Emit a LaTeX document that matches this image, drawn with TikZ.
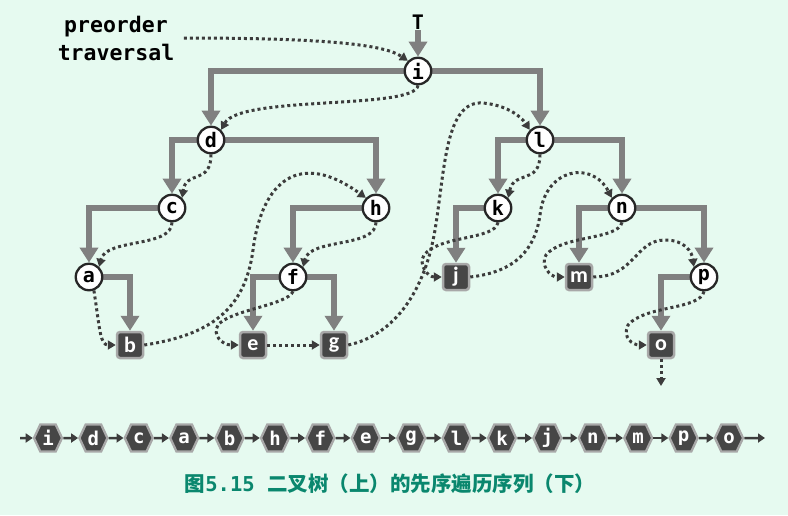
\documentclass[tikz,border=0pt]{standalone}
\usepackage{fontspec}
\usetikzlibrary{arrows.meta,shapes.geometric,shapes.symbols}
\newfontfamily\monof{DejaVu Sans Mono}
\newfontfamily\carl{Carlito}
\newfontfamily\cjk{Noto Sans CJK SC}
\definecolor{bgc}{RGB}{230,250,240}
\definecolor{egray}{RGB}{128,128,128}
\definecolor{dotc}{RGB}{60,60,60}
\definecolor{sqfill}{RGB}{70,70,70}
\definecolor{sqedge}{RGB}{168,168,168}
\definecolor{capc}{RGB}{10,135,110}
\pgfdeclarelayer{bg}
\pgfsetlayers{bg,main}
\tikzset{
  circ/.style={circle, draw=black!85, line width=2.3pt, fill=white, minimum size=26.5pt, inner sep=0pt,
    font=\monof\bfseries\fontsize{20}{20}\selectfont},
  sqn/.style={rectangle, rounded corners=3pt, draw=sqedge, line width=2.5pt, fill=sqfill, minimum size=26pt,
    inner sep=0pt, text=white, font=\carl\bfseries\fontsize{22}{22}\selectfont},
  hexn/.style={signal, signal to=east and west, signal pointer angle=130, draw=sqedge, line width=2.3pt,
    fill=sqfill, minimum width=28pt, minimum height=27pt, inner sep=0pt, text=white,
    font=\monof\bfseries\fontsize{19}{19}\selectfont},
  tedge/.style={draw=egray, line width=5.5pt, line join=miter, -{Triangle[width=18pt,length=15pt]}},
  trav/.style={draw=dotc, line width=3pt, dash pattern=on 3pt off 3pt, -{Triangle[width=9pt,length=8pt]}},
  harrow/.style={draw=dotc, line width=2.5pt, -{Triangle[width=9pt,length=7pt]}},
}
\begin{document}
\begin{tikzpicture}[x=1pt,y=-1pt]
\useasboundingbox (0,0) rectangle (788,515);
\begin{pgfonlayer}{bg}
\fill[bgc] (0,0) rectangle (788,515);
\end{pgfonlayer}
% labels
\node[font=\monof\bfseries\fontsize{21.5}{28}\selectfont, align=center] (pre) at (116,38) {preorder\\traversal};
\node[font=\monof\bfseries\fontsize{20}{20}\selectfont, inner sep=1pt] (T) at (418,22) {T};
% tree nodes
\node[circ] (i) at (418,71) {i};
\node[circ] (d) at (211,140) {d};
\node[circ] (l) at (540,140) {l};
\node[circ] (c) at (172,208) {c};
\node[circ] (h) at (376,208) {h};
\node[circ] (k) at (498,208) {k};
\node[circ] (n) at (622,208) {n};
\node[circ] (a) at (89,277) {a};
\node[circ] (f) at (293,277) {f};
\node[sqn] (j) at (456,277) {j};
\node[sqn] (m) at (579,277) {m};
\node[circ] (p) at (704,277) {p};
\node[sqn] (b) at (130,345) {b};
\node[sqn] (e) at (253,345) {e};
\node[sqn] (g) at (334,345) {g};
\node[sqn] (o) at (661,345) {o};
\coordinate (oend) at (661,386);
% tree edges
\begin{pgfonlayer}{bg}
\draw[tedge] (T) -- (i);
\draw[tedge] (i) -| (d);
\draw[tedge] (i) -| (l);
\draw[tedge] (d) -| (c);
\draw[tedge] (d) -| (h);
\draw[tedge] (c) -| (a);
\draw[tedge] (h) -| (f);
\draw[tedge] (a) -| (b);
\draw[tedge] (f) -| (e);
\draw[tedge] (f) -| (g);
\draw[tedge] (l) -| (k);
\draw[tedge] (l) -| (n);
\draw[tedge] (k) -| (j);
\draw[tedge] (n) -| (m);
\draw[tedge] (n) -| (p);
\draw[tedge] (p) -| (o);
\end{pgfonlayer}
% traversal thread
\draw[trav] ([xshift=6pt]pre.east) .. controls (330,38) and (385,45) .. (i.north west);
\draw[trav] (i.south) .. controls (415,110) and (240,95) .. (d.north east);
\draw[trav] (d.south) .. controls (211,185) and (186,170) .. (c.north east);
\draw[trav] (c.south) .. controls (172,248) and (106,238) .. (a.north east);
\draw[trav] (a.-70) .. controls (100,330) and (100,345) .. (b.west);
\draw[trav] (b.east) .. controls (210,335) and (245,310) .. (253,250) .. controls (262,180) and (300,150) .. (h.north west);
\draw[trav] (h.south) .. controls (376,248) and (310,238) .. (f.north east);
\draw[trav] (f.south) .. controls (288,305) and (230,310) .. (218,325) .. controls (212,335) and (222,345) .. (e.west);
\draw[trav] (e) -- (g);
\draw[trav] (g.east) .. controls (395,335) and (425,290) .. (435,230) .. controls (445,170) and (445,100) .. (483,103) .. controls (505,105) and (520,115) .. (l.north west);
\draw[trav] (l.south) .. controls (540,185) and (514,170) .. (k.north east);
\draw[trav] (k.south) .. controls (495,240) and (440,235) .. (424,255) .. controls (418,265) and (428,277) .. (j.west);
\draw[trav] (j.east) .. controls (515,272) and (535,250) .. (540,215) .. controls (545,168) and (592,160) .. (n.north west);
\draw[trav] (n.south) .. controls (618,240) and (562,235) .. (546,255) .. controls (540,265) and (550,277) .. (m.west);
\draw[trav] (m.east) .. controls (635,277) and (635,240) .. (665,240) .. controls (685,240) and (692,252) .. (p.north west);
\draw[trav] (p.south) .. controls (700,310) and (645,305) .. (628,325) .. controls (622,338) and (633,345) .. (o.west);
\draw[trav] (o.south) -- (oend);
% sequence
\foreach \t [count=\k from 0] in {i,d,c,a,b,h,f,e,g,l,k,j,n,m,p,o}{
  \node[hexn] (q\k) at ({48+45.4*\k},438) {\t};
}
\coordinate (qs) at (20,438);
\coordinate (qe) at (765,438);
\draw[harrow] (qs) -- (q0);
\foreach \k in {0,...,14}{
  \pgfmathtruncatemacro\kk{\k+1}
  \draw[harrow] (q\k) -- (q\kk);
}
\draw[harrow] (q15) -- (qe);
\node[font=\cjk\bfseries\fontsize{20.5}{24}\selectfont, text=capc] (cap) at (390,484) {图{\monof\bfseries 5.15 }二叉树（上）的先序遍历序列（下）};
\end{tikzpicture}
\end{document}
